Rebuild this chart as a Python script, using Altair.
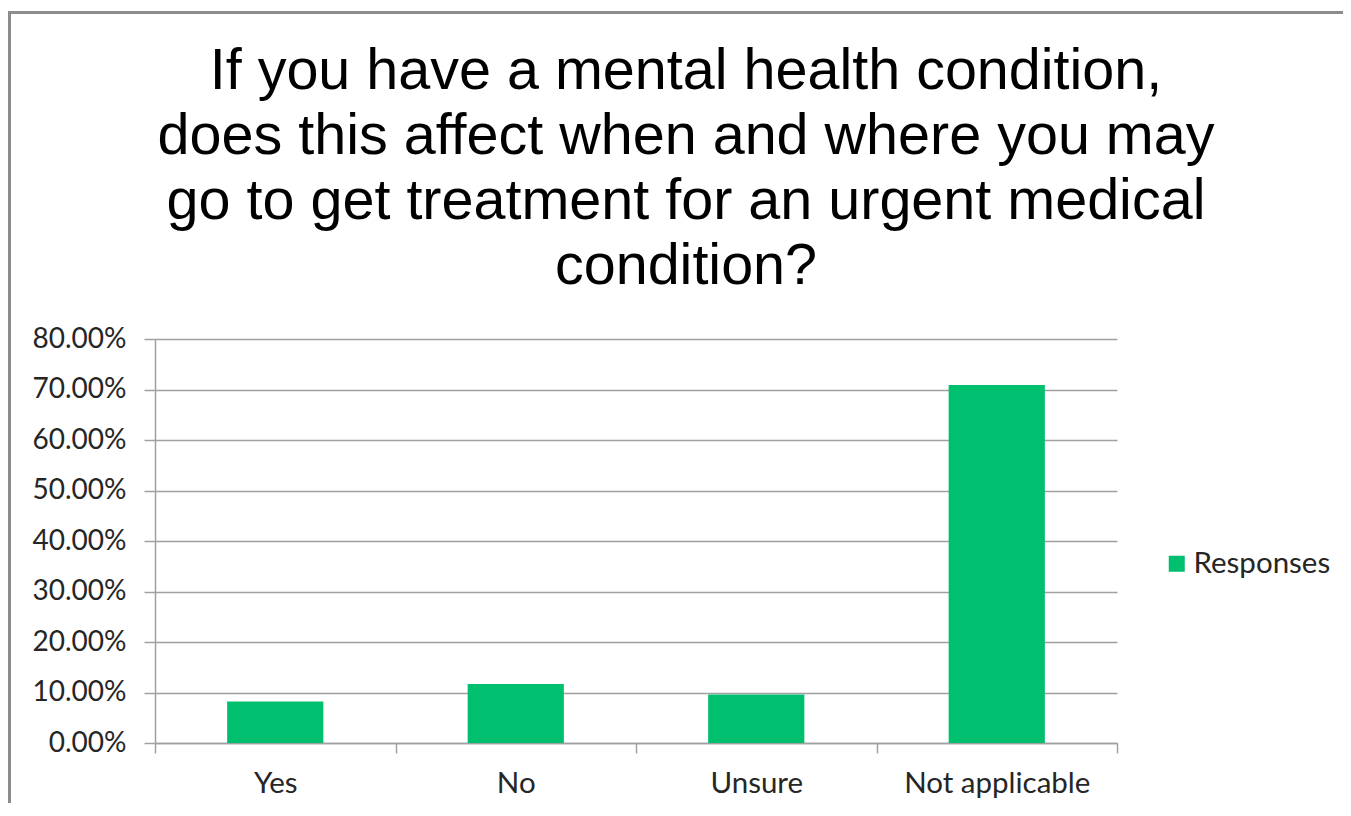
import altair as alt
import pandas as pd

categories = ["Yes", "No", "Unsure", "Not applicable"]
values = [0.082, 0.117, 0.096, 0.709]
series = ["Responses"] * 4
y_ticks = [0.0, 0.1, 0.2, 0.3, 0.4, 0.5, 0.6, 0.7, 0.8]
title_lines = [
    "If you have a mental health condition,",
    "does this affect when and where you may",
    "go to get treatment for an urgent medical",
    "condition?",
]

df = pd.DataFrame({"answer": categories, "share": values, "series": series})

GRID = "#A0A0A0"
TEXT = "#262626"
GREEN = "#00BF6F"

bars = alt.Chart(df).mark_bar(width={"band": 0.4}).encode(
    x=alt.X(
        "answer:N",
        sort=categories,
        scale=alt.Scale(paddingInner=0, paddingOuter=0),
        axis=alt.Axis(
            title=None, labelAngle=0, tickBand="extent", tickSize=10,
            labelPadding=16, domainColor=GRID, tickColor=GRID,
            domainWidth=1.5, tickWidth=1.5, labelLimit=400,
            labelFont="Lato", labelFontSize=29.5, labelColor=TEXT, grid=False,
        ),
    ),
    y=alt.Y(
        "share:Q",
        scale=alt.Scale(domain=[0, 0.8], nice=False),
        axis=alt.Axis(
            values=y_ticks, format=".2%", title=None, tickSize=11,
            labelPadding=18, domainColor=GRID, tickColor=GRID,
            domainWidth=1.5, tickWidth=1.5, gridColor=GRID, gridWidth=1.5,
            labelFont="Lato", labelFontSize=28, labelColor=TEXT,
        ),
    ),
    color=alt.Color(
        "series:N",
        scale=alt.Scale(range=[GREEN]),
        legend=alt.Legend(
            title=None, orient="none", legendX=1007, legendY=210,
            symbolType="square", symbolSize=256, symbolStrokeWidth=0,
            labelFont="Lato", labelFontSize=29.5, labelColor=TEXT,
            padding=0, labelOffset=2, labelLimit=400,
        ),
    ),
)

border = alt.Chart(alt.Data(values=[{}])).mark_rect(
    fillOpacity=0, stroke="#8C8C8C", strokeWidth=3
).encode(
    x=alt.value(-145.5), x2=alt.value(1300),
    y=alt.value(-326.5), y2=alt.value(600),
)

chart = alt.layer(border, bars).properties(
    width=962,
    height=404,
    padding={"left": 147, "top": 331, "right": 226, "bottom": 60},
    autosize=alt.AutoSizeParams(type="none"),
    title=alt.TitleParams(
        text=title_lines, font="Liberation Sans", fontSize=57.5,
        fontWeight="normal", color="black", lineHeight=65,
        anchor="middle", dx=50, offset=-285,
    ),
    background="white",
).configure_view(stroke=None)

chart.save("out.html", embed_options={"renderer": "svg", "actions": False})
